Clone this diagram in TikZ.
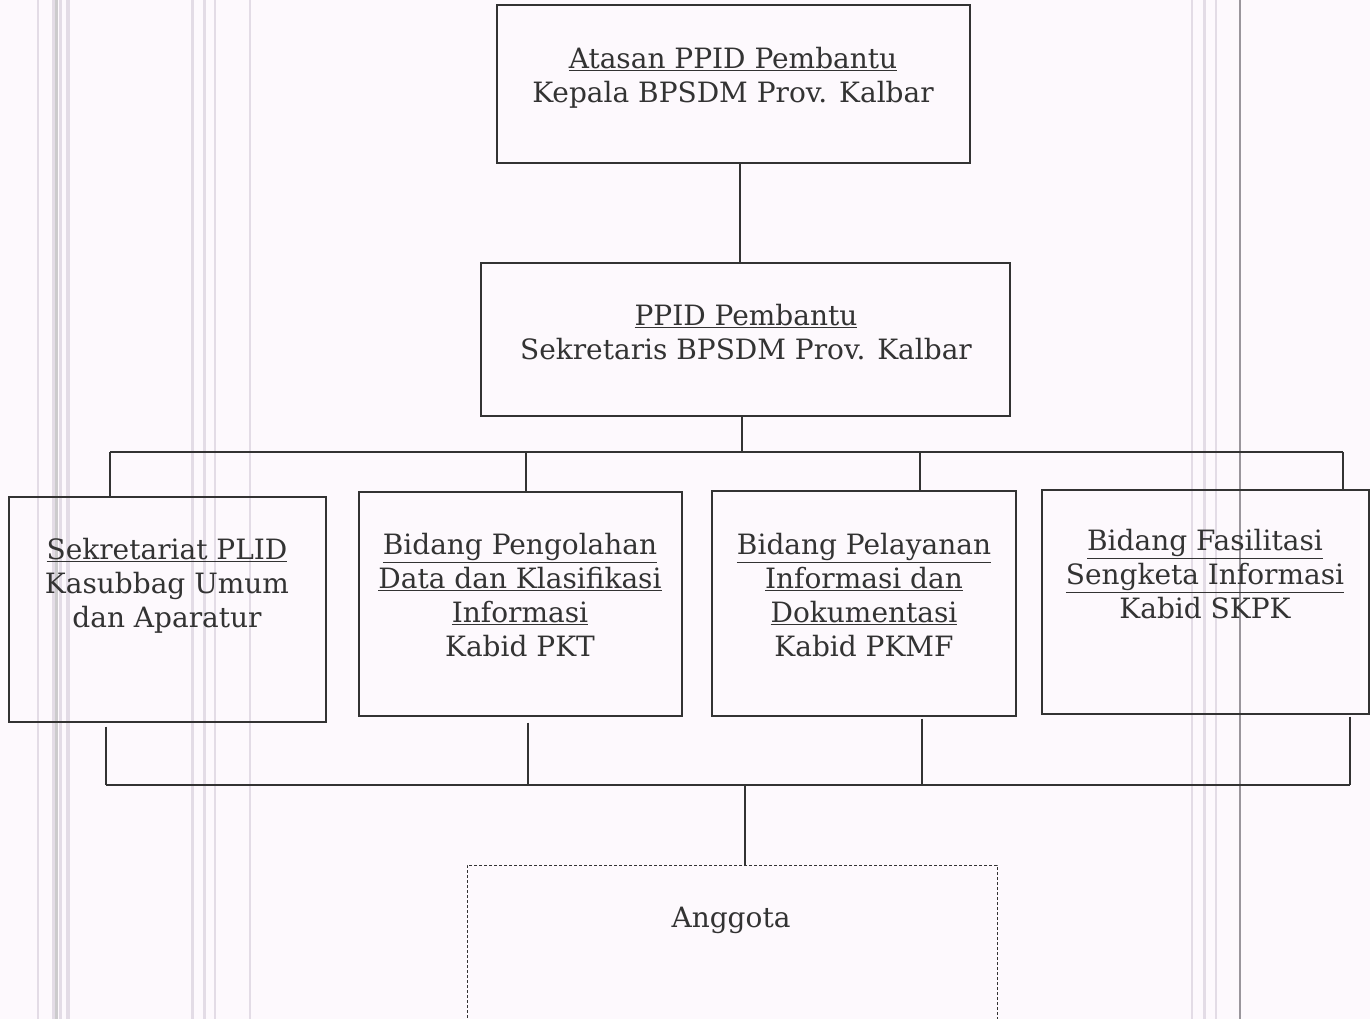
\documentclass[tikz,border=0pt]{standalone}
\usepackage{fontspec}
\setmainfont{DejaVu Serif}
\definecolor{paper}{HTML}{FDF9FD}
\definecolor{ink}{HTML}{333333}
\definecolor{streak}{HTML}{E3DCE6}
\definecolor{streakdark}{HTML}{9A969C}
\tikzset{
  box/.style={draw=ink, line width=1.3pt, rectangle, inner sep=0pt},
  dbox/.style={draw=ink, line width=1pt, dash pattern=on 3pt off 2pt, rectangle, inner sep=0pt},
  txt/.style={text=ink, align=center, inner sep=0pt, anchor=north, font=\fontsize{28}{34}\selectfont},
  conn/.style={draw=ink, line width=1.5pt},
  scanline/.style={draw=streak, line width=#1},
}
\begin{document}
\begin{tikzpicture}[x=1pt,y=-1pt]
\useasboundingbox (0,0) rectangle (1370,1019);
\clip (0,0) rectangle (1370,1019);
\fill[paper] (0,0) rectangle (1370,1019);
% scan streaks
\foreach \xx/\ww in {38/2, 53/3, 60/3, 68/4, 192/3, 204/3, 215/2, 250/2, 1192/2, 1204/3, 1216/2}
  \draw[scanline=\ww] (\xx,0) -- (\xx,1019);
\draw[draw=streakdark, line width=2pt] (1240,0) -- (1240,1019);
\draw[draw=streakdark!50, line width=3pt] (56,0) -- (56,1019);

% boxes
\node[box, minimum width=473, minimum height=158] (top) at (733.5,84) {};
\node[txt] (toptxt) at (733,47) {\underline{Atasan PPID Pembantu}\\Kepala BPSDM Prov. Kalbar};

\node[box, minimum width=529, minimum height=153] (mid) at (745.5,339.5) {};
\node[txt] (midtxt) at (746,304) {\underline{PPID Pembantu}\\Sekretaris BPSDM Prov. Kalbar};

\node[box, minimum width=317, minimum height=225] (b1) at (167.5,609.5) {};
\node[txt] (b1txt) at (167,538) {\underline{Sekretariat PLID}\\Kasubbag Umum\\dan Aparatur};

\node[box, minimum width=323, minimum height=224] (b2) at (520.5,604) {};
\node[txt] (b2txt) at (520,533) {\underline{Bidang Pengolahan}\\\underline{Data dan Klasifikasi}\\\underline{Informasi}\\Kabid PKT};

\node[box, minimum width=304, minimum height=225] (b3) at (864,603.5) {};
\node[txt] (b3txt) at (864,533) {\underline{Bidang Pelayanan}\\\underline{Informasi dan}\\\underline{Dokumentasi}\\Kabid PKMF};

\node[box, minimum width=327, minimum height=224] (b4) at (1205.5,602) {};
\node[txt] (b4txt) at (1205,529) {\underline{Bidang Fasilitasi}\\\underline{Sengketa Informasi}\\Kabid SKPK};

\node[dbox, minimum width=530, minimum height=200] (ang) at (732,965) {};
\node[txt] (angtxt) at (731,907) {Anggota};

% connectors
\coordinate (busL) at (110,452);
\coordinate (busR) at (1343,452);
\coordinate (busM) at (742,452);
\draw[conn] (top.south -| 740,0) -- (mid.north -| 740,0);
\draw[conn] (mid.south -| busM) -- (busM);
\draw[conn] (busL) -- (busR);
\draw[conn] (busL) -- (b1.north -| busL);
\draw[conn] (526,452) -- (b2.north -| 526,0);
\draw[conn] (920,452) -- (b3.north -| 920,0);
\draw[conn] (busR) -- (b4.north -| busR);

\coordinate (lbL) at (106,785);
\coordinate (lbR) at (1350,785);
\coordinate (lbM) at (745,785);
\draw[conn] (lbL) -- (lbR);
\draw[conn] (b1.south -| lbL) ++(0,4) -- (lbL);
\draw[conn] (b2.south -| 528,0) ++(0,6) -- (528,785);
\draw[conn] (b3.south -| 922,0) ++(0,2) -- (922,785);
\draw[conn] (b4.south -| lbR) ++(0,2) -- (lbR);
\draw[conn] (lbM) -- (ang.north -| lbM);
\end{tikzpicture}
\end{document}
